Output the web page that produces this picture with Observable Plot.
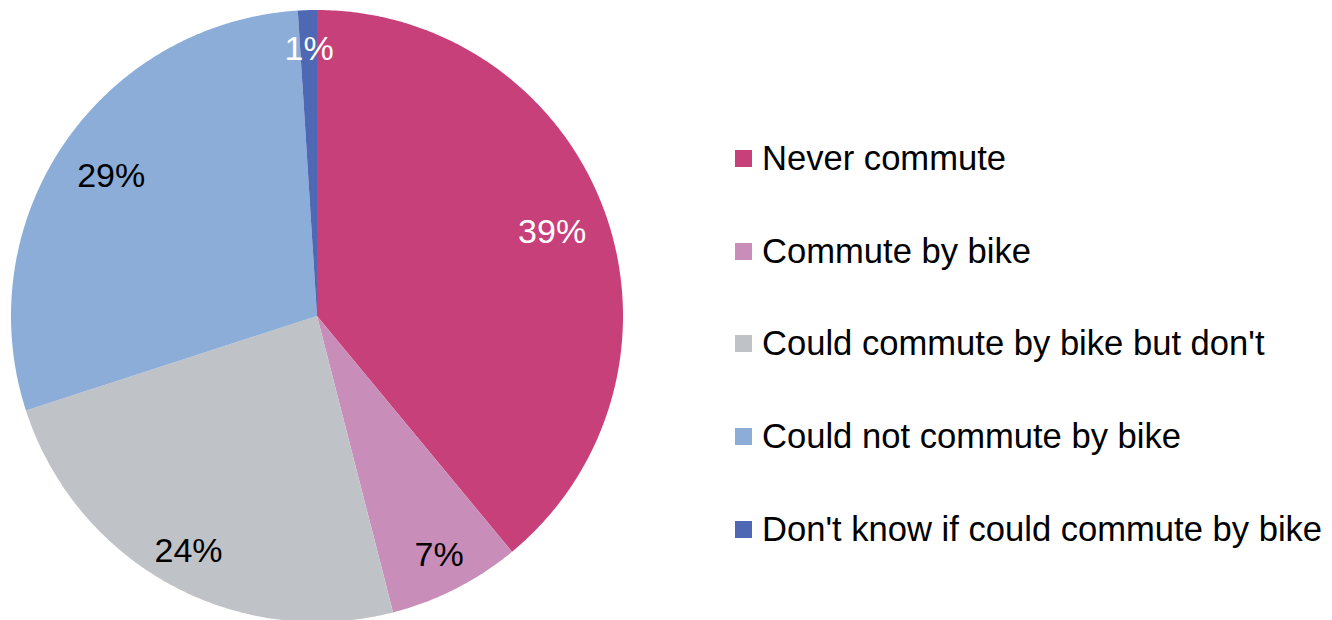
<!DOCTYPE html>
<html>
<head>
<meta charset="utf-8">
<script src="https://cdn.jsdelivr.net/npm/d3@7"></script>
<script src="https://cdn.jsdelivr.net/npm/@observablehq/plot@0.6"></script>
<style>
  html, body { margin: 0; padding: 0; background: #fff; }
  #wrap { position: relative; width: 1332px; height: 620px; overflow: hidden; font-family: "Liberation Sans", Arial, sans-serif; }
  #legend { position: absolute; left: 735px; top: 112px; }
  .row { display: flex; align-items: center; height: 92.75px; font-size: 34.6px; color: #000; white-space: nowrap; }
  .sw { width: 17px; height: 17px; margin-right: 10px; flex: none; }
</style>
</head>
<body>
<div id="wrap"></div>
<script>
const categories = ["Never commute", "Commute by bike", "Could commute by bike but don't", "Could not commute by bike", "Don't know if could commute by bike"];
const percents = [39, 7, 24, 29, 1];
const colors = ["#C8407A", "#C98DBA", "#BFC2C7", "#8CADD8", "#4F68B4"];
const labelInk = ["#ffffff", "#000000", "#000000", "#000000", "#ffffff"];

const slices = d3.pie().sort(null).value(d => d.value)(
  categories.map((c, i) => ({ cat: c, value: percents[i], ink: labelInk[i] }))
);

// arc outline points for each slice (unit circle, y up)
const arcPts = [];
for (const s of slices) {
  const n = Math.max(4, Math.ceil((s.endAngle - s.startAngle) / 0.01));
  for (let k = 0; k <= n; k++) {
    const a = s.startAngle + (s.endAngle - s.startAngle) * k / n;
    arcPts.push({ cat: s.data.cat, x: Math.sin(a), y: Math.cos(a) });
  }
}
// label placement rule: big slices keep labels a bit further inside
const labels = slices.map(s => {
  const a = (s.startAngle + s.endAngle) / 2;
  const r = s.data.value >= 25 ? 0.815 : 0.875;
  return { x: r * Math.sin(a), y: r * Math.cos(a), text: s.data.value + "%", ink: s.data.ink };
});

const R = 306, CX = 317, CY = 316;
const chart = Plot.plot({
  width: 1332,
  height: 620,
  margin: 0,
  style: { fontFamily: "'Liberation Sans', Arial, sans-serif", background: "white", overflow: "visible" },
  x: { domain: [-1, 1], range: [CX - R, CX + R], axis: null },
  y: { domain: [-1, 1], range: [CY + R, CY - R], axis: null },
  color: { domain: categories, range: colors },
  marks: [
    Plot.area(arcPts, { x1: "x", y1: "y", x2: d => 0, y2: d => 0, fill: "cat", z: "cat", curve: "linear" }),
    Plot.text(labels, { x: "x", y: "y", text: "text", fill: d => d.ink, fontSize: 34, textAnchor: "middle", lineAnchor: "middle" })
  ]
});
const wrap = document.getElementById("wrap");
wrap.appendChild(chart);

const legend = document.createElement("div");
legend.id = "legend";
categories.forEach((c, i) => {
  const row = document.createElement("div");
  row.className = "row";
  const sw = document.createElement("span");
  sw.className = "sw";
  sw.style.background = colors[i];
  const t = document.createElement("span");
  t.textContent = c;
  row.appendChild(sw);
  row.appendChild(t);
  legend.appendChild(row);
});
wrap.appendChild(legend);
</script>
</body>
</html>
